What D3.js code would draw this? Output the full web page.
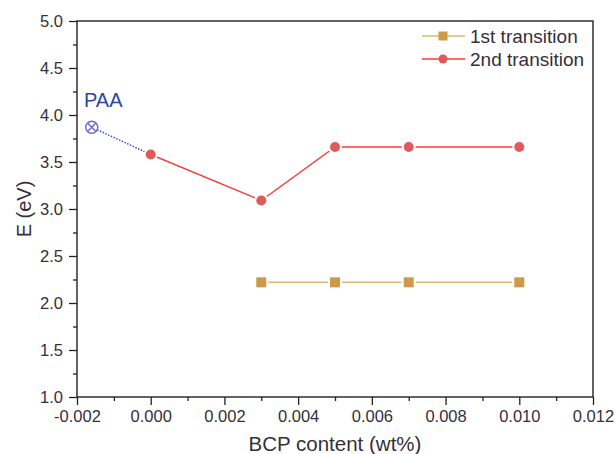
<!DOCTYPE html>
<html>
<head>
<meta charset="utf-8">
<script src="https://cdn.jsdelivr.net/npm/d3@7"></script>
<style>
  html, body { margin: 0; padding: 0; background: #fff; }
  svg { display: block; }
  text { font-family: "Liberation Sans", Arial, sans-serif; }
</style>
</head>
<body>
<svg id="chart" width="615" height="454"></svg>
<script>
// BCP content (wt%) and band-transition energies (eV)
const bcp1 = [0.003, 0.005, 0.007, 0.010];
const energy1 = [2.22, 2.22, 2.22, 2.22];
const bcp2 = [0.000, 0.003, 0.005, 0.007, 0.010];
const energy2 = [3.58, 3.09, 3.66, 3.66, 3.66];
const paaBcp = [-0.0016];
const paaEnergy = [3.87];
const xTicks = [-0.002, 0.000, 0.002, 0.004, 0.006, 0.008, 0.010, 0.012];
const yTicks = [1.0, 1.5, 2.0, 2.5, 3.0, 3.5, 4.0, 4.5, 5.0];
const seriesNames = ["1st transition", "2nd transition"];

const svg = d3.select("#chart");
const plotL = 77, plotR = 593, plotT = 21, plotB = 397;

const x = d3.scaleLinear().domain([-0.002, 0.012]).range([plotL, plotR]);
const y = d3.scaleLinear().domain([1, 5]).range([plotB, plotT]);

const textColor = "#35303a";
const col1 = { line: "#dcb772", mark: "#cc9a48" };
const col2 = { line: "#ff3a3a", mark: "#e05a5a" };

// plain hyphen-minus for negative tick labels
const fmtX = v => d3.format(".3f")(v).replace("\u2212", "-");

// minor ticks
const xMinor = d3.range(-0.002, 0.0121, 0.001).filter(v => !xTicks.some(t => Math.abs(t - v) < 1e-9));
const yMinor = d3.range(1.25, 5, 0.5);

svg.append("g")
  .attr("transform", `translate(0,${plotB})`)
  .call(d3.axisBottom(x).tickValues(xMinor).tickSize(4).tickFormat(""))
  .call(g => g.select(".domain").remove())
  .call(g => g.selectAll("line").attr("stroke", "#222").attr("stroke-width", 1.3));

svg.append("g")
  .attr("transform", `translate(${plotL},0)`)
  .call(d3.axisLeft(y).tickValues(yMinor).tickSize(4).tickFormat(""))
  .call(g => g.select(".domain").remove())
  .call(g => g.selectAll("line").attr("stroke", "#222").attr("stroke-width", 1.3));

// major ticks with labels
svg.append("g")
  .attr("transform", `translate(0,${plotB})`)
  .call(d3.axisBottom(x).tickValues(xTicks).tickSize(8).tickPadding(5).tickFormat(fmtX))
  .call(g => g.select(".domain").remove())
  .call(g => g.selectAll("line").attr("stroke", "#222").attr("stroke-width", 1.3))
  .call(g => g.selectAll("text").attr("fill", textColor).style("font-size", "16.5px")
    .style("font-family", "'Liberation Sans', Arial, sans-serif"));

svg.append("g")
  .attr("transform", `translate(${plotL},0)`)
  .call(d3.axisLeft(y).tickValues(yTicks).tickSize(8).tickPadding(6).tickFormat(d3.format(".1f")))
  .call(g => g.select(".domain").remove())
  .call(g => g.selectAll("line").attr("stroke", "#222").attr("stroke-width", 1.3))
  .call(g => g.selectAll("text").attr("fill", textColor).style("font-size", "16.5px")
    .style("font-family", "'Liberation Sans', Arial, sans-serif"));

// plot frame
svg.append("rect")
  .attr("x", plotL).attr("y", plotT)
  .attr("width", plotR - plotL).attr("height", plotB - plotT)
  .attr("fill", "none").attr("stroke", "#222").attr("stroke-width", 1.4);

// axis titles
svg.append("text")
  .attr("x", (plotL + plotR) / 2).attr("y", 451)
  .attr("text-anchor", "middle").attr("fill", textColor)
  .style("font-size", "20.5px")
  .text("BCP content (wt%)");

svg.append("text")
  .attr("transform", `translate(31,${(plotT + plotB) / 2}) rotate(-90)`)
  .attr("text-anchor", "middle").attr("fill", textColor)
  .style("font-size", "20px")
  .text("E (eV)");

const line = d3.line().x(d => x(d[0])).y(d => y(d[1]));
const pts1 = bcp1.map((v, i) => [v, energy1[i]]);
const pts2 = bcp2.map((v, i) => [v, energy2[i]]);
const ptsPaa = [[paaBcp[0], paaEnergy[0]], [bcp2[0], energy2[0]]];

// dotted link from neat PAA to the first blend point
svg.append("path").attr("d", line(ptsPaa))
  .attr("fill", "none").attr("stroke", "#2a3de0").attr("stroke-width", 1.4)
  .attr("stroke-dasharray", "1.5,1.5");

svg.append("path").attr("d", line(pts1))
  .attr("fill", "none").attr("stroke", col1.line).attr("stroke-width", 1.6);
svg.append("path").attr("d", line(pts2))
  .attr("fill", "none").attr("stroke", col2.line).attr("stroke-width", 1.4);

// markers (white halo gives the gap where lines meet the symbols)
const sq = 10, r = 5;
svg.append("g").selectAll("rect").data(pts1).join("rect")
  .attr("x", d => x(d[0]) - sq / 2 - 2).attr("y", d => y(d[1]) - sq / 2 - 2)
  .attr("width", sq + 4).attr("height", sq + 4).attr("fill", "#fff");
svg.append("g").selectAll("rect").data(pts1).join("rect")
  .attr("x", d => x(d[0]) - sq / 2).attr("y", d => y(d[1]) - sq / 2)
  .attr("width", sq).attr("height", sq).attr("fill", col1.mark);

svg.append("g").selectAll("circle").data(pts2).join("circle")
  .attr("cx", d => x(d[0])).attr("cy", d => y(d[1])).attr("r", r + 2).attr("fill", "#fff");
svg.append("g").selectAll("circle").data(pts2).join("circle")
  .attr("cx", d => x(d[0])).attr("cy", d => y(d[1])).attr("r", r).attr("fill", col2.mark);

// PAA symbol: open circle with a cross
const px = x(paaBcp[0]), py = y(paaEnergy[0]);
const paaG = svg.append("g").attr("stroke", "#6a6ad0").attr("stroke-width", 1.4).attr("fill", "none");
paaG.append("circle").attr("cx", px).attr("cy", py).attr("r", 6).attr("fill", "#fff");
paaG.append("path").attr("d", `M${px - 4},${py - 4}L${px + 4},${py + 4}M${px - 4},${py + 4}L${px + 4},${py - 4}`);

svg.append("text")
  .attr("x", 84).attr("y", 107)
  .attr("fill", "#2b46a8")
  .style("font-size", "20px")
  .text("PAA");

// legend
const legend = svg.append("g");
const legendRows = [
  { name: seriesNames[0], c: col1, y: 36, shape: "square" },
  { name: seriesNames[1], c: col2, y: 59, shape: "circle" }
];
legendRows.forEach(row => {
  legend.append("line").attr("x1", 422).attr("x2", 465).attr("y1", row.y).attr("y2", row.y)
    .attr("stroke", row.c.line).attr("stroke-width", 1.6);
  if (row.shape === "square") {
    legend.append("rect").attr("x", 443 - 4.5).attr("y", row.y - 4.5)
      .attr("width", 9).attr("height", 9).attr("fill", row.c.mark);
  } else {
    legend.append("circle").attr("cx", 443).attr("cy", row.y).attr("r", 4.5).attr("fill", row.c.mark);
  }
  legend.append("text").attr("x", 470).attr("y", row.y + 6.5)
    .attr("fill", textColor).style("font-size", "19px")
    .text(row.name);
});
</script>
</body>
</html>
